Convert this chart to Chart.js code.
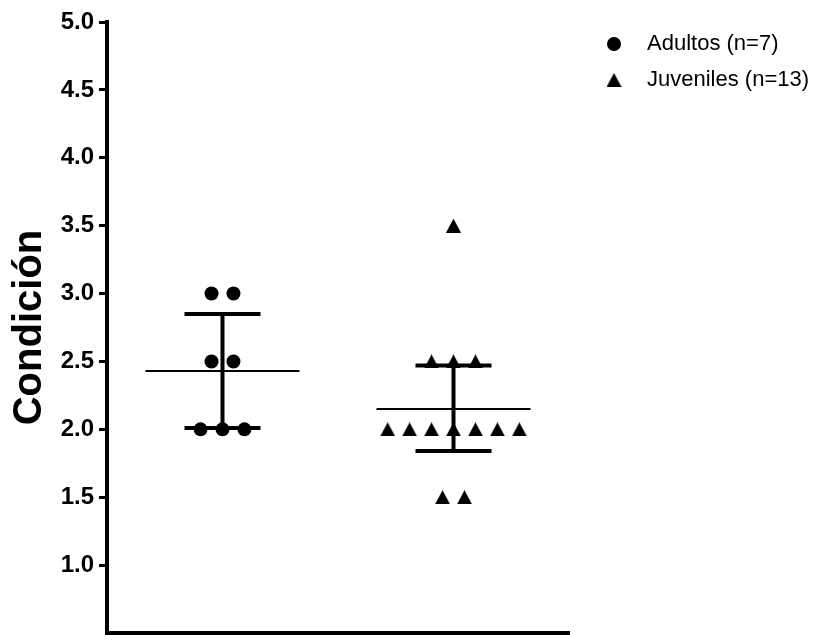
<!DOCTYPE html>
<html>
<head>
<meta charset="utf-8">
<script src="https://cdn.jsdelivr.net/npm/chart.js@4.4.0/dist/chart.umd.min.js"></script>
<style>
  html, body { margin: 0; padding: 0; background: #ffffff; }
  #wrap { width: 824px; height: 635px; }
</style>
</head>
<body>
<div id="wrap"><canvas id="c" width="824" height="635"></canvas></div>
<script>
// ---- data ----
const groupLabels = ['Adultos (n=7)', 'Juveniles (n=13)'];
const adultos = [3.0, 3.0, 2.5, 2.5, 2.0, 2.0, 2.0];
const juveniles = [3.5, 2.5, 2.5, 2.5, 2.0, 2.0, 2.0, 2.0, 2.0, 2.0, 2.0, 1.5, 1.5];
const means = [2.43, 2.15];
const errLow = [2.01, 1.84];
const errHigh = [2.85, 2.47];
const yTickValues = [1.0, 1.5, 2.0, 2.5, 3.0, 3.5, 4.0, 4.5, 5.0];
const yTitle = 'Condición';

// ---- style / layout constants ----
const FONT = '"Liberation Sans", Arial, Helvetica, sans-serif';
const JITTER = 0.095;      // horizontal spacing of tied points (x units)
const MEAN_HALF_PX = 77;   // half width of mean line
const CAP_HALF_PX = 38;    // half width of SD caps

// Column-scatter layout: tied values are spread side by side around the group center
function spread(values, center) {
  const counts = {};
  values.forEach(v => { counts[v] = (counts[v] || 0) + 1; });
  const seen = {};
  return values.map(v => {
    const i = seen[v] || 0;
    seen[v] = i + 1;
    return { x: center + (i - (counts[v] - 1) / 2) * JITTER, y: v };
  });
}

// Triangle marker centered on its bounding box (as in the reference)
function makeTriangle(w, h) {
  const cv = document.createElement('canvas');
  cv.width = w; cv.height = h;
  const g = cv.getContext('2d');
  g.fillStyle = '#000';
  g.beginPath();
  g.moveTo(w / 2, 0);
  g.lineTo(w, h);
  g.lineTo(0, h);
  g.closePath();
  g.fill();
  return cv;
}
const triangleImg = makeTriangle(15, 14);

const meanSDPlugin = {
  id: 'meanSD',
  beforeDatasetsDraw(chart) {
    const { ctx, scales: { x, y } } = chart;
    ctx.save();
    ctx.strokeStyle = '#000';
    ctx.lineCap = 'butt';
    means.forEach((m, i) => {
      const cx = x.getPixelForValue(i + 0.5);
      const ym = y.getPixelForValue(m);
      const yl = y.getPixelForValue(errLow[i]);
      const yh = y.getPixelForValue(errHigh[i]);
      ctx.lineWidth = 2;
      ctx.beginPath();
      ctx.moveTo(cx - MEAN_HALF_PX, ym); ctx.lineTo(cx + MEAN_HALF_PX, ym);
      ctx.stroke();
      ctx.lineWidth = 4;
      ctx.beginPath();
      ctx.moveTo(cx, yl); ctx.lineTo(cx, yh);
      ctx.moveTo(cx - CAP_HALF_PX, yl); ctx.lineTo(cx + CAP_HALF_PX, yl);
      ctx.moveTo(cx - CAP_HALF_PX, yh); ctx.lineTo(cx + CAP_HALF_PX, yh);
      ctx.stroke();
    });
    ctx.restore();
  }
};

const sideLegendPlugin = {
  id: 'sideLegend',
  afterDraw(chart) {
    const ctx = chart.ctx;
    ctx.save();
    chart.data.datasets.forEach((ds, i) => {
      const yy = 44 + i * 36;
      ctx.fillStyle = '#000';
      ctx.strokeStyle = '#000';
      Chart.helpers.drawPoint(ctx, { pointStyle: ds.pointStyle, radius: ds.pointRadius, borderWidth: 0, rotation: 0 }, 614, yy);
      ctx.fillStyle = '#000';
      ctx.font = '22px ' + FONT;
      ctx.textBaseline = 'middle';
      ctx.textAlign = 'left';
      ctx.fillText(ds.label, 647, yy);
    });
    ctx.restore();
  }
};

new Chart(document.getElementById('c'), {
  type: 'scatter',
  data: {
    datasets: [
      {
        label: groupLabels[0],
        data: spread(adultos, 0.5),
        pointStyle: 'circle',
        pointRadius: 7,
        backgroundColor: '#000',
        borderColor: '#000',
        borderWidth: 0
      },
      {
        label: groupLabels[1],
        data: spread(juveniles, 1.5),
        pointStyle: triangleImg,
        pointRadius: 8,
        backgroundColor: '#000',
        borderColor: '#000',
        borderWidth: 0
      }
    ]
  },
  options: {
    responsive: false,
    animation: false,
    devicePixelRatio: 1,
    layout: { autoPadding: false, padding: { top: 22, right: 255, bottom: 2, left: 0 } },
    plugins: { legend: { display: false }, tooltip: { enabled: false } },
    scales: {
      x: {
        type: 'linear', min: 0, max: 2,
        grid: { display: false, drawTicks: false, tickLength: 0 },
        ticks: { display: false, padding: 0 },
        border: { display: true, color: '#000', width: 4 },
        afterFit: s => { s.height = 0; s.paddingLeft = 0; s.paddingRight = 0; }
      },
      y: {
        type: 'linear', min: 0.5, max: 5,
        afterBuildTicks: s => { s.ticks = yTickValues.map(v => ({ value: v })); },
        afterFit: s => { s.width = 107; s.paddingTop = 0; s.paddingBottom = 0; },
        ticks: {
          callback: v => Number(v).toFixed(1),
          color: '#000',
          padding: 5,
          font: { family: FONT, size: 24, weight: 'bold' }
        },
        grid: { drawOnChartArea: false, drawTicks: true, tickLength: 8, tickWidth: 3, color: '#000' },
        border: { display: true, color: '#000', width: 4 },
        title: {
          display: true, text: yTitle, color: '#000',
          font: { family: FONT, size: 40, weight: 'bold' },
          padding: { top: 6, bottom: 0 }
        }
      }
    }
  },
  plugins: [meanSDPlugin, sideLegendPlugin]
});
</script>
</body>
</html>
